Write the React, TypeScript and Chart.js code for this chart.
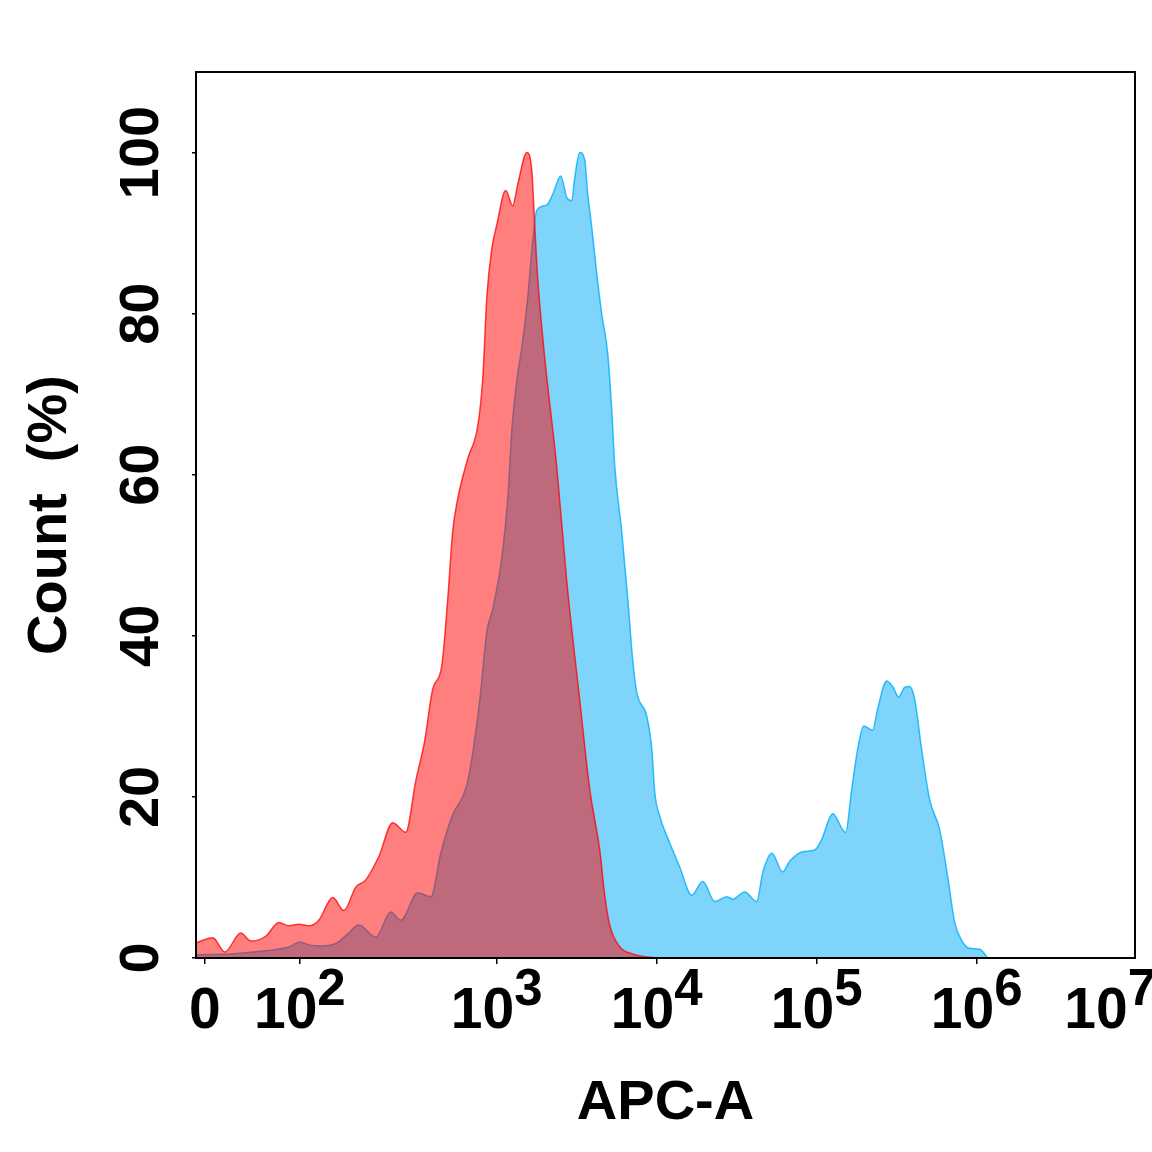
import React, { useEffect, useRef } from 'react';
import { Chart, registerables } from 'chart.js';

Chart.register(...registerables);

// x values are axis display positions (decade units: 3 = 10^3, 4 = 10^4, ...)
const redX = [1.12, 1.225, 1.3, 1.4, 1.463, 1.556, 1.638, 1.7, 1.763, 1.825, 1.888, 1.975, 2.044, 2.119, 2.181, 2.263, 2.35, 2.431, 2.494, 2.55, 2.6, 2.656, 2.694, 2.725, 2.756, 2.819, 2.881, 2.913, 2.938, 2.969, 3.0, 3.056, 3.1, 3.131, 3.188, 3.219, 3.238, 3.256, 3.3, 3.375, 3.438, 3.519, 3.581, 3.644, 3.675, 3.706, 3.769, 3.85, 3.956, 4.081];
const redY = [1.9, 2.5, 0.75, 3.1, 2.1, 2.7, 4.4, 4.0, 4.2, 4.0, 4.7, 7.5, 5.9, 8.8, 9.7, 12.6, 16.8, 15.6, 22, 27, 33.4, 36.2, 44.6, 53, 57, 62, 66, 72, 82, 88, 91, 95.3, 93.4, 96, 100, 97.8, 90.7, 84.4, 74.5, 61, 46.7, 32, 21, 13.4, 7.8, 4.1, 1.4, 0.5, 0.1, 0];

const blueX = [1.12, 1.331, 1.556, 1.706, 1.769, 1.831, 1.9, 1.994, 2.069, 2.138, 2.244, 2.338, 2.4, 2.506, 2.588, 2.65, 2.719, 2.819, 2.894, 2.938, 2.975, 3.031, 3.069, 3.094, 3.125, 3.156, 3.194, 3.225, 3.25, 3.313, 3.35, 3.4, 3.438, 3.469, 3.488, 3.519, 3.55, 3.569, 3.594, 3.625, 3.656, 3.694, 3.719, 3.738, 3.781, 3.819, 3.85, 3.875, 3.938, 3.969, 3.988, 4.019, 4.081, 4.144, 4.219, 4.288, 4.363, 4.438, 4.475, 4.55, 4.625, 4.663, 4.719, 4.788, 4.831, 4.913, 4.988, 5.031, 5.1, 5.181, 5.219, 5.256, 5.294, 5.35, 5.381, 5.438, 5.475, 5.513, 5.55, 5.581, 5.613, 5.656, 5.706, 5.769, 5.819, 5.863, 5.906, 5.956, 6.019, 6.069];
const blueY = [0.4, 0.5, 0.9, 1.4, 2.0, 1.6, 1.5, 1.8, 3.0, 4.1, 2.6, 5.7, 4.7, 8.1, 7.6, 13, 17.5, 22, 32, 40.5, 43.3, 49.6, 57, 65.4, 71.6, 75.7, 82, 89, 92.8, 93.5, 94.8, 97.1, 94.4, 94, 96.9, 100, 99.1, 94.8, 90.7, 85, 80, 75, 68, 61, 53, 44.6, 37, 33, 30, 26, 20.5, 17.6, 14.3, 11.3, 7.8, 9.5, 7, 7.6, 7.3, 8.2, 7, 10.6, 13, 10.7, 12, 13.2, 13.4, 14.7, 17.9, 15.6, 20.9, 25.9, 28.8, 28.3, 30.9, 34.4, 33.7, 32.4, 33.6, 33.7, 32.1, 25.9, 19.7, 15.9, 10.1, 4.4, 2.2, 1.2, 1.1, 0];

const xTickPos = [1.175, 1.769, 3, 4, 5, 6, 7];
const xTickBase = ['0', '10', '10', '10', '10', '10', '10'];
const xTickExp = ['', '2', '3', '4', '5', '6', '7'];
const yTicks = [0, 20, 40, 60, 80, 100];

const xTitle = 'APC-A';
const yTitle = 'Count  (%)';
const X_MIN = 1.12;
const X_MAX = 6.99;
const Y_MAX = 110;

const FAMILY = '"Liberation Sans", Arial, sans-serif';
const font = (s: number) => `bold ${s}px ${FAMILY}`;

const labelPlugin = {
  id: 'customLabels',
  afterDraw(chart: any) {
    const { ctx, chartArea: a, scales } = chart;
    ctx.save();
    ctx.strokeStyle = '#000';
    ctx.lineWidth = 2;
    ctx.strokeRect(a.left, a.top, a.right - a.left, a.bottom - a.top);
    ctx.fillStyle = '#000';
    // y tick labels (rotated)
    yTicks.forEach((v) => {
      const py = scales.y.getPixelForValue(v);
      ctx.save();
      ctx.translate(a.left - 38, py);
      ctx.rotate(-Math.PI / 2);
      ctx.font = font(56);
      ctx.textAlign = 'center';
      ctx.textBaseline = 'alphabetic';
      ctx.fillText(String(v), 0, 0);
      ctx.restore();
    });
    // x tick labels with superscripts
    xTickPos.forEach((v, i) => {
      const px = scales.x.getPixelForValue(v);
      ctx.font = font(57);
      const wb = ctx.measureText(xTickBase[i]).width;
      ctx.font = font(51);
      const we = xTickExp[i] ? ctx.measureText(xTickExp[i]).width : 0;
      let start = px - (wb + we) / 2;
      start = Math.min(start, chart.width + 4 - (wb + we));
      ctx.textAlign = 'left';
      ctx.textBaseline = 'alphabetic';
      ctx.font = font(57);
      ctx.fillText(xTickBase[i], start, a.bottom + 70);
      if (we) {
        ctx.font = font(51);
        ctx.fillText(xTickExp[i], start + wb, a.bottom + 47);
      }
    });
    ctx.restore();
  },
};

export default function App() {
  const ref = useRef<HTMLCanvasElement | null>(null);
  useEffect(() => {
    if (!ref.current) return;
    const chart = new Chart(ref.current, {
      type: 'line',
      data: {
        datasets: [
          {
            label: 'Control',
            data: redX.map((x, i) => ({ x, y: redY[i] })),
            borderColor: 'rgba(255,0,0,0.75)',
            backgroundColor: 'rgba(255,0,0,0.5)',
            fill: 'origin',
            borderWidth: 1.5,
            pointRadius: 0,
            tension: 0.3,
            cubicInterpolationMode: 'monotone',
          },
          {
            label: 'Sample',
            data: blueX.map((x, i) => ({ x, y: blueY[i] })),
            borderColor: 'rgba(0,175,250,0.8)',
            backgroundColor: 'rgba(0,170,250,0.5)',
            fill: 'origin',
            borderWidth: 1.5,
            pointRadius: 0,
            tension: 0.3,
            cubicInterpolationMode: 'monotone',
          },
        ],
      } as any,
      options: {
        animation: false,
        responsive: false,
        devicePixelRatio: 1,
        layout: { padding: { top: 72, right: 17, left: 0, bottom: 0 } },
        plugins: { legend: { display: false }, tooltip: { enabled: false } },
        scales: {
          x: {
            type: 'linear',
            min: X_MIN,
            max: X_MAX,
            afterBuildTicks: (s: any) => {
              s.ticks = xTickPos.filter((v) => v >= X_MIN && v <= X_MAX).map((v) => ({ value: v }));
            },
            afterFit: (s: any) => {
              s.height = 194;
            },
            ticks: { display: false },
            grid: { display: true, drawOnChartArea: false, drawTicks: true, tickLength: 6, color: '#000', lineWidth: 1.5 },
            border: { display: true, color: '#000', width: 2 },
            title: {
              display: true,
              text: xTitle,
              color: '#000',
              font: { family: FAMILY, size: 56, weight: 'bold' },
              padding: { top: 0, bottom: 15 },
            },
          },
          y: {
            type: 'linear',
            min: 0,
            max: Y_MAX,
            afterBuildTicks: (s: any) => {
              s.ticks = yTicks.map((v) => ({ value: v }));
            },
            afterFit: (s: any) => {
              s.width = 196;
            },
            ticks: { display: false },
            grid: { display: true, drawOnChartArea: false, drawTicks: true, tickLength: 4, color: '#000', lineWidth: 1.5 },
            border: { display: true, color: '#000', width: 2 },
            title: {
              display: true,
              text: yTitle,
              color: '#000',
              font: { family: FAMILY, size: 56, weight: 'bold' },
              padding: { top: 17, bottom: 0 },
            },
          },
        },
      } as any,
      plugins: [labelPlugin],
    });
    return () => chart.destroy();
  }, []);
  return (
    <div style={{ position: 'fixed', left: 0, top: 0, width: 1152, height: 1152, background: '#fff' }}>
      <canvas ref={ref} width={1152} height={1152} style={{ width: 1152, height: 1152, display: 'block' }} />
    </div>
  );
}
